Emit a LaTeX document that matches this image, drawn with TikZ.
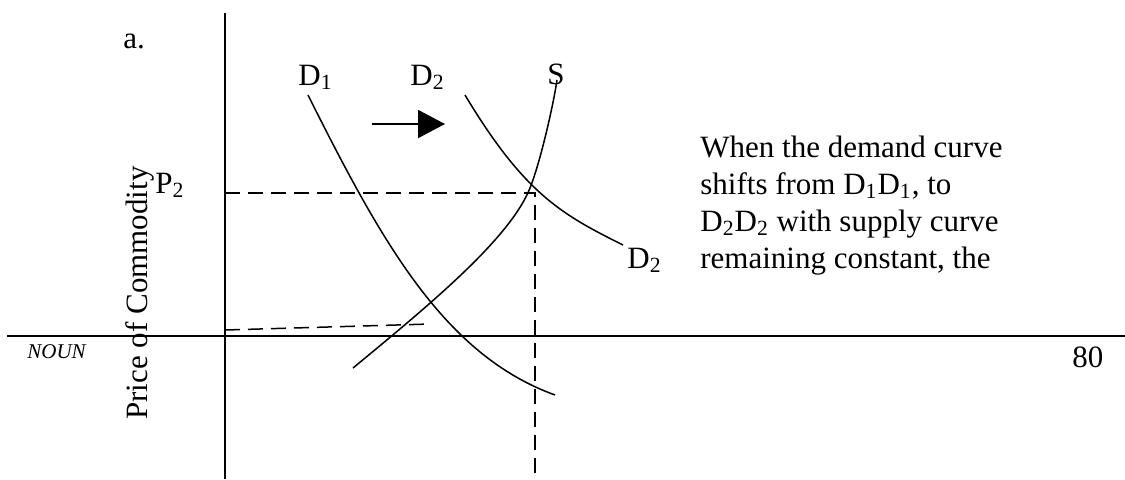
\documentclass[tikz,border=0pt]{standalone}
\usepackage{fontspec}
\setmainfont{Liberation Serif}
\usetikzlibrary{arrows.meta}
\newcommand{\sub}[1]{\textsubscript{#1}}

\begin{document}
\begin{tikzpicture}[x=0.5pt,y=-0.5pt,
    every node/.style={font=\fontsize{15.5}{18.5}\selectfont,inner sep=0pt},
    axis/.style={line width=1pt},
    curve/.style={line width=0.75pt},
    guide/.style={line width=0.75pt,dash pattern=on 7.5pt off 4pt}]
    \useasboundingbox (0,0) rectangle (1125,479);
    % axes
    \coordinate (ytop) at (225,13);
    \coordinate (ybot) at (225,479);
    \coordinate (xleft) at (7,336);
    \coordinate (xright) at (1125,336);
    \draw[axis] (ytop) -- (ybot);
    \draw[axis] (xleft) -- (xright);
    % demand and supply curves
    \coordinate (d1a) at (308,95);
    \coordinate (d1b) at (555,395);
    \coordinate (d2a) at (465,95);
    \coordinate (d2b) at (623,245);
    \coordinate (sa) at (353,368);
    \coordinate (sm) at (530,188);
    \coordinate (sb) at (557,80);
    \draw[curve] (d1a) .. controls (383,245) and (445,355) .. (d1b);
    \draw[curve] (d2a) .. controls (525,195) and (563,215) .. (d2b);
    \draw[curve] (sa) .. controls (433,302) and (510,238) .. (sm)
        .. controls (540,163) and (553,107) .. (sb);
    % equilibrium guides
    \coordinate (E2) at (535,193);
    \coordinate (P2) at (225,193);
    \coordinate (Q2) at (535,479);
    \coordinate (E1) at (430,324);
    \coordinate (P1) at (225,330);
    \draw[guide] (P2) -- (E2) -- (Q2);
    \draw[guide] (P1) -- (E1);
    % shift arrow
    \coordinate (shiftA) at (372,124);
    \coordinate (shiftB) at (445,124);
    \draw[line width=1pt,-{Triangle[length=13.5pt,width=14pt]}] (shiftA) -- (shiftB);
    % labels
    \node[anchor=base west] (part) at (123,48) {a.};
    \node[anchor=base west] (d1top) at (298,85) {D\sub{1}};
    \node[anchor=base west] (d2top) at (410,85) {D\sub{2}};
    \node[anchor=base west] (slab) at (547,84) {S};
    \node[anchor=base west] (p2lab) at (155,193) {P\sub{2}};
    \node[anchor=base west] (d2end) at (627,268) {D\sub{2}};
    \node[anchor=base west] (eighty) at (1072,367) {80};
    \node[anchor=base west,font=\fontsize{10.5}{12}\selectfont\itshape] (noun) at (27,358) {NOUN};
    \node[anchor=base west,rotate=90] (ylab) at (147,420) {Price of Commodity};
    % base of a multi-line node is its last line
    \node[anchor=base west,align=left] (note) at (700,268) {When the demand curve\\
        shifts from D\sub{1}D\sub{1}, to\\D\sub{2}D\sub{2} with supply curve\\
        remaining constant, the};
\end{tikzpicture}
\end{document}
